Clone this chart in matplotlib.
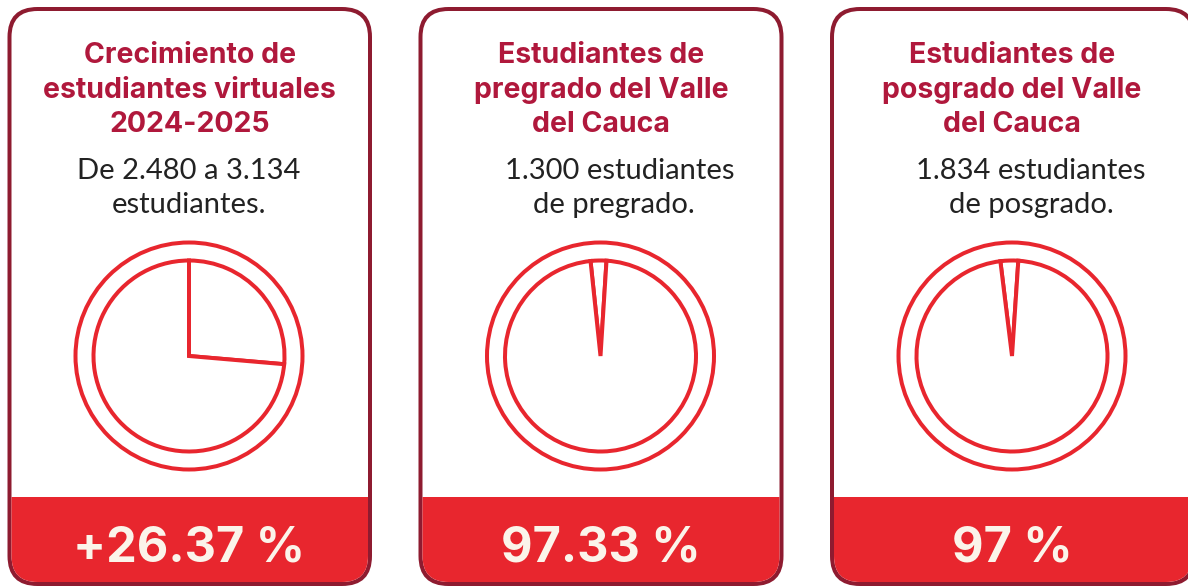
import numpy as np
import matplotlib
matplotlib.use('Agg')
import matplotlib.pyplot as plt
from matplotlib.patches import FancyBboxPatch, Rectangle, Circle

#%% Datos
titulos = [
    ['Crecimiento de', 'estudiantes virtuales', '2024-2025'],
    ['Estudiantes de', 'pregrado del Valle', 'del Cauca'],
    ['Estudiantes de', 'posgrado del Valle', 'del Cauca'],
]
textos = [
    ['De 2.480 a 3.134', 'estudiantes.'],
    ['1.300 estudiantes', 'de pregrado.'],
    ['1.834 estudiantes', 'de posgrado.'],
]
porcentajes = [26.37, 97.33, 97]
etiquetas = ['+26.37 %', '97.33 %', '97 %']
# tamaño de la porción dibujada en cada círculo
porcion = [26.37, 100 - 97.33, 100 - 97]
inicio = [90, 96, 97]

#%% Estilo
W, H = 1188, 586
rojo = '#E8262E'
vino = '#8E1B30'
titulo_c = '#B0183C'
texto_c = '#222222'
crema = '#FBF4EA'
lw = 4 * 72 / 100

fig = plt.figure(figsize=(W / 100, H / 100), dpi=100)
ax = fig.add_axes([0, 0, 1, 1])

def Y(y):
    return H - y

def caja(x0, x1, y0, y1, r, color, z):
    # rectángulo redondeado relleno (coordenadas en píxeles, y hacia abajo)
    p = FancyBboxPatch((x0, Y(y1)), x1 - x0, y1 - y0,
                       boxstyle='round,pad=0,rounding_size=%g' % r,
                       facecolor=color, edgecolor='none', zorder=z)
    ax.add_patch(p)
    return p

cards_x = [(9.5, 370), (420.5, 781.5), (832, 1194)]
body_x = [[189, 189], [620, 614], [1031, 1031]]
pie_cx = [189, 600.5, 1012]
pie_cy = 356

for i in range(3):
    x0, x1 = cards_x[i]
    caja(x0 - 2, x1 + 2, 7, 586, 30, vino, 1)
    interior = caja(x0 + 2, x1 - 2, 11, 582, 26, 'white', 1.5)
    band = Rectangle((x0 - 5, Y(600)), x1 - x0 + 10, 600 - 497,
                     facecolor=rojo, edgecolor='none', zorder=2)
    ax.add_patch(band)
    band.set_clip_path(interior)

    cx = (x0 + x1) / 2
    if i == 2:
        cx = 1012
    for j, linea in enumerate(titulos[i]):
        ax.text(cx, Y(63 + j * 34.5), linea, ha='center', va='baseline',
                fontsize=20.5, fontweight='bold', color=titulo_c,
                family='Inter', zorder=6)
    for j, linea in enumerate(textos[i]):
        ax.text(body_x[i][j], Y(179 + j * 34), linea, ha='center', va='baseline',
                fontsize=21, color=texto_c, family='Lato', zorder=6)

    ax.add_patch(Circle((pie_cx[i], Y(pie_cy)), 113.5, facecolor='white',
                        edgecolor=rojo, linewidth=lw, zorder=3))
    ax.pie([porcion[i], 100 - porcion[i]], center=(pie_cx[i], Y(pie_cy)),
           radius=95.5, startangle=inicio[i], counterclock=False, frame=True,
           wedgeprops=dict(facecolor='white', edgecolor=rojo, linewidth=lw,
                           joinstyle='miter', zorder=3))

    ax.text(pie_cx[i], Y(562), etiquetas[i], ha='center', va='baseline',
            fontsize=35, fontweight='bold', color=crema, family='Inter', zorder=6)

ax.set_xlim(0, W)
ax.set_ylim(0, H)
ax.set_aspect('auto')
ax.axis('off')
fig.savefig('out.png', dpi=100, facecolor='white')
